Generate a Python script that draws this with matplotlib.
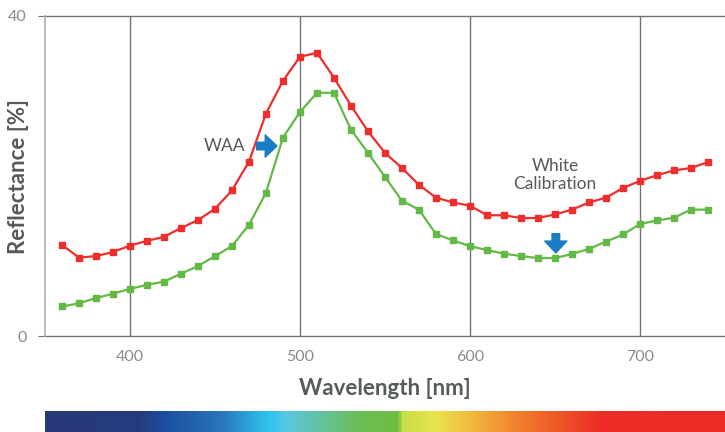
import matplotlib
matplotlib.use("Agg")
import matplotlib.pyplot as plt
import numpy as np
from matplotlib.colors import LinearSegmentedColormap

plt.rcParams['font.family'] = ['Lato', 'DejaVu Sans']

# ---- data ----
wavelength = [360, 370, 380, 390, 400, 410, 420, 430, 440, 450,
              460, 470, 480, 490, 500, 510, 520, 530, 540, 550,
              560, 570, 580, 590, 600, 610, 620, 630, 640, 650,
              660, 670, 680, 690, 700, 710, 720, 730, 740]
waa = [11.4, 9.8, 10.0, 10.5, 11.3, 11.9, 12.4, 13.5, 14.5, 15.9,
       18.2, 21.8, 27.8, 31.9, 34.9, 35.4, 32.3, 28.8, 25.6, 22.9,
       21.0, 18.9, 17.3, 16.7, 16.3, 15.1, 15.1, 14.75, 14.75, 15.2,
       15.8, 16.7, 17.3, 18.5, 19.4, 20.1, 20.7, 21.0, 21.75]
white_cal = [3.7, 4.1, 4.75, 5.3, 5.9, 6.4, 6.8, 7.8, 8.75, 10.0,
             11.25, 13.9, 17.9, 24.8, 28.0, 30.4, 30.4, 25.8, 22.9, 19.9,
             16.9, 15.8, 12.75, 11.95, 11.25, 10.75, 10.3, 10.0, 9.75, 9.75,
             10.25, 10.9, 11.8, 12.7, 14.0, 14.45, 14.8, 15.8, 15.8]
xticks = [400, 500, 600, 700]
yticks = [0, 40]

RED = '#ee2e2c'
GREEN = '#62b946'
BLUE = '#1b7cc4'
TXT = '#555a5c'

fig = plt.figure(figsize=(7.25, 4.32), dpi=100)
ax = fig.add_axes([0.062, 0.222, 0.938, 0.741])

ax.plot(wavelength, waa, color=RED, lw=1.6, marker='s', ms=4.5, zorder=3)
ax.plot(wavelength, white_cal, color=GREEN, lw=1.6, marker='s', ms=4.5, zorder=3)

ax.set_xlim(350, 750)
ax.set_ylim(0, 40)
ax.set_xticks(xticks)
ax.set_yticks(yticks)
for x in xticks:
    ax.axvline(x, color='#6f7474', lw=1, zorder=1)
for y in yticks:
    ax.axhline(y, color='#6f7474', lw=1, zorder=1, clip_on=False)

for s in ['top', 'right', 'bottom']:
    ax.spines[s].set_visible(False)
ax.spines['left'].set_color('#b0b0b0')
ax.spines['left'].set_linewidth(1.2)
ax.tick_params(axis='y', length=5, color='#6f7474', labelcolor='#8a8a8a',
               labelsize=11.5, pad=8)
ax.tick_params(axis='x', length=0, labelcolor='#8a8a8a', labelsize=11.5, pad=10)

ax.set_xlabel('Wavelength [nm]', fontsize=16, fontweight='bold', color=TXT,
              labelpad=10)
ax.set_ylabel('Reflectance [%]', fontsize=16, fontweight='bold', color=TXT)
ax.yaxis.set_label_coords(-0.024, 0.5)

# annotations
ax.text(468, 23.75, 'WAA', fontsize=12.5, color=TXT, ha='right', va='center')
ax.text(650, 20.1, 'White\nCalibration', fontsize=12.5, color=TXT,
        ha='center', va='center', linespacing=1.15)

arrow = dict(arrowstyle='simple,head_width=1.6,head_length=0.85,tail_width=0.55',
             color=BLUE, shrinkA=0, shrinkB=0, mutation_scale=10)
ax.annotate('', xy=(486.5, 23.75), xytext=(474.5, 23.75), arrowprops=arrow)
ax.annotate('', xy=(650.5, 10.4), xytext=(650.5, 12.8), arrowprops=arrow)

# spectrum bar
stops = [(0.0, '#263a78'), (0.138, '#273c80'), (0.172, '#1b4c9e'),
         (0.26, '#2a78bb'), (0.328, '#2ec4ee'), (0.356, '#5bc7df'),
         (0.463, '#6cbe52'), (0.519, '#6dbd44'), (0.525, '#c8de48'),
         (0.574, '#e8e44e'), (0.62, '#f0c040'), (0.682, '#f28a30'),
         (0.75, '#ee5a28'), (0.818, '#ee2c26'), (1.0, '#ee2a26')]
cmap = LinearSegmentedColormap.from_list('spectrum', stops)
bar = fig.add_axes([0.062, 0.0, 0.938, 0.049])
bar.imshow(np.linspace(0, 1, 680)[None, :], aspect='auto', cmap=cmap,
           extent=[0, 1, 0, 1])
bar.axis('off')

fig.savefig('out.png', dpi=100)
